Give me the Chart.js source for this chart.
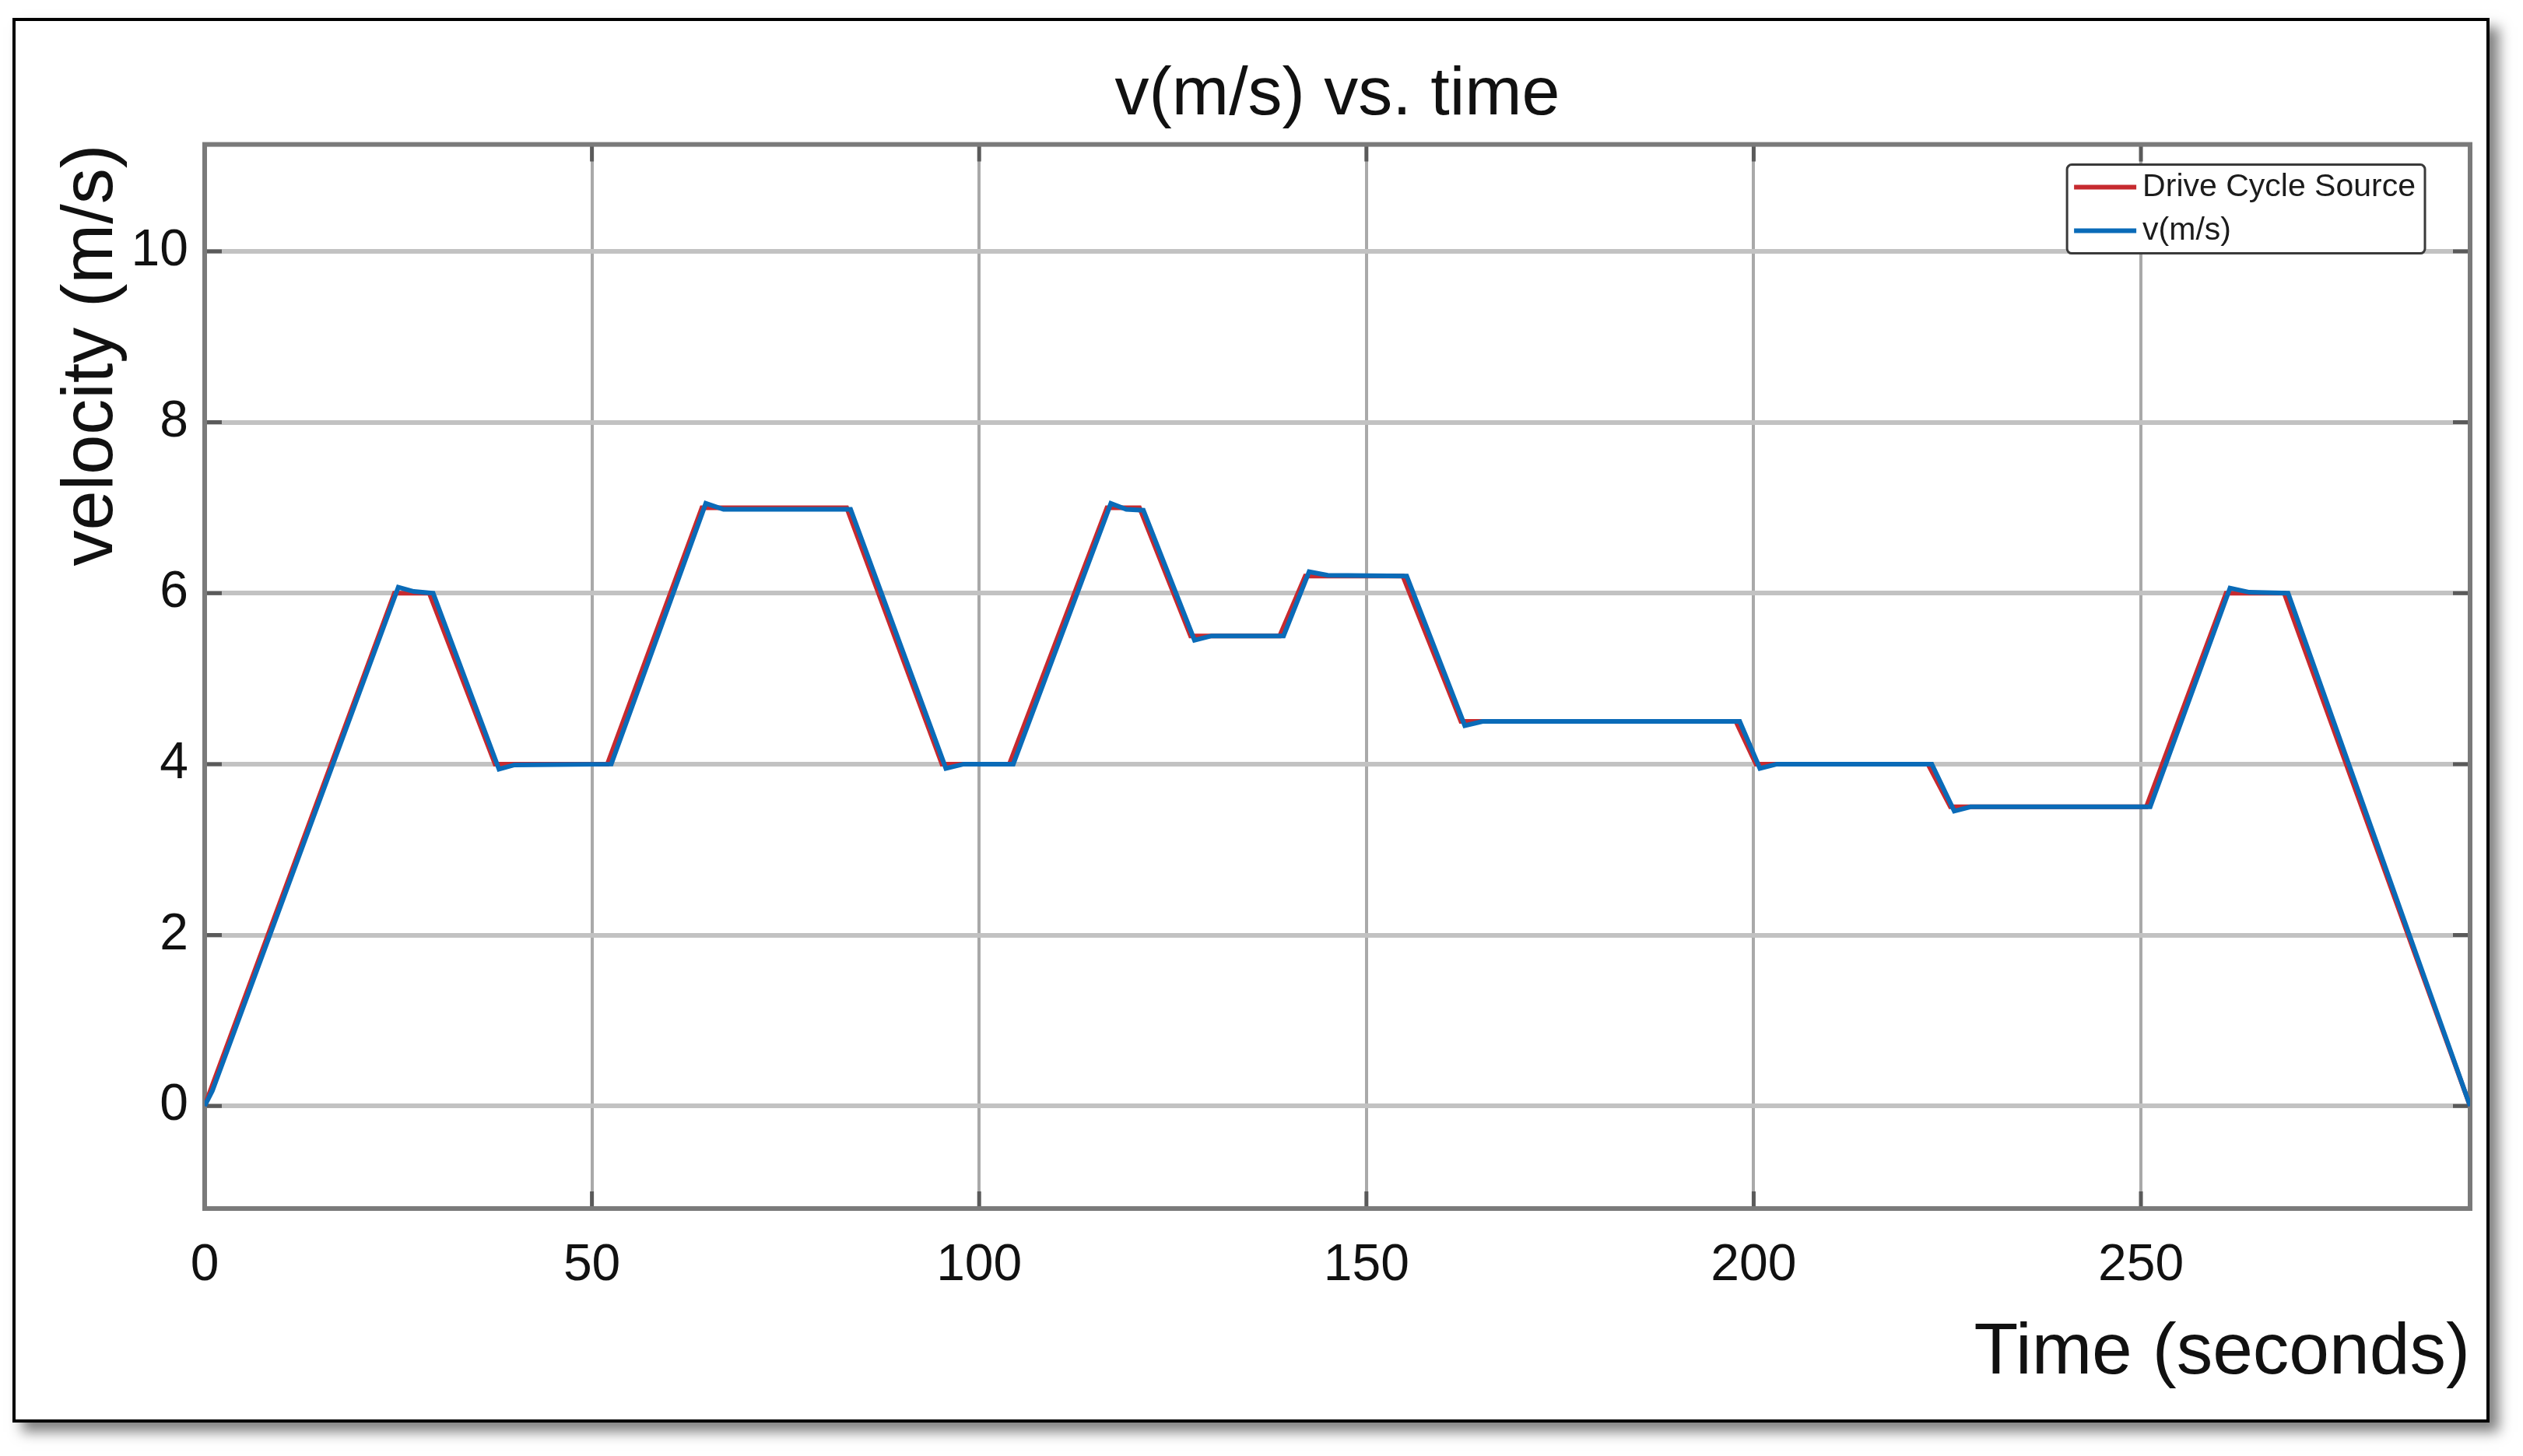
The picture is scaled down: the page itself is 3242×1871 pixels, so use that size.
<!DOCTYPE html>
<html>
<head>
<meta charset="utf-8">
<script src="https://cdn.jsdelivr.net/npm/chart.js@4.4.1/dist/chart.umd.min.js"></script>
<style>
html,body{margin:0;padding:0;background:#ffffff;width:3242px;height:1871px;overflow:hidden}
#frame{position:absolute;left:16px;top:23px;width:3183px;height:1805px;box-sizing:border-box;border:4px solid #000;box-shadow:12px 12px 16px rgba(0,0,0,0.5);background:#fff}
#c{position:absolute;left:0;top:0}
</style>
</head>
<body>
<div id="frame"></div>
<canvas id="c" width="3242" height="1871"></canvas>
<script>
// ---- data ----
const chartTitle = 'v(m/s) vs. time';
const xAxisTitle = 'Time (seconds)';
const yAxisTitle = 'velocity (m/s)';
const seriesNames = ['Drive Cycle Source', 'v(m/s)'];
const xTicks = [0, 50, 100, 150, 200, 250];
const yTicks = [0, 2, 4, 6, 8, 10];
const xRange = [0, 292.5];
const yRange = [-1.2, 11.25];

// Drive cycle source (red)
const sourceTime = [0, 24.5, 29, 37.5, 52, 64.2, 82.9, 95.2, 103.9, 116.5, 120.7, 127.3, 138.8, 142.1, 154.7, 162.2, 197.7, 200.3, 222.5, 225.4, 250.7, 261, 268.5, 292.5];
const sourceVel  = [0, 6, 6, 4, 4, 7, 7, 4, 4, 7, 7, 5.5, 5.5, 6.2, 6.2, 4.5, 4.5, 4, 4, 3.5, 3.5, 6, 6, 0];

// Vehicle response v(m/s) (blue)
const responseTime = [0, 1, 25, 27, 29.5, 38, 40, 52.5, 64.7, 67, 83.4, 95.7, 98, 104.4, 117, 119, 121.2, 127.8, 130, 139.3, 142.6, 145, 155.2, 162.7, 165, 198.2, 200.8, 203, 223, 225.9, 228, 251.2, 261.5, 264, 269, 292.5];
const responseVel  = [0, 0.18, 6.07, 6.02, 6.0, 3.94, 3.99, 4.0, 7.05, 6.98, 6.98, 3.95, 4.0, 4.0, 7.05, 6.98, 6.97, 5.45, 5.5, 5.5, 6.25, 6.21, 6.2, 4.45, 4.5, 4.5, 3.95, 4.0, 4.0, 3.45, 3.5, 3.5, 6.06, 6.01, 6.0, 0];

// ---- styling ----
const FONT = "'Liberation Sans', Arial, Helvetica, sans-serif";

const axesBox = {
  id: 'axesBox',
  beforeDatasetsDraw(chart) {
    const {ctx, chartArea: a, scales: {x, y}} = chart;
    const L = 22;
    ctx.save();
    ctx.lineWidth = 5;
    ctx.strokeStyle = '#5a5a5a';
    ctx.beginPath();
    x.ticks.forEach(t => {
      const px = x.getPixelForValue(t.value);
      ctx.moveTo(px, a.bottom); ctx.lineTo(px, a.bottom - L);
      ctx.moveTo(px, a.top); ctx.lineTo(px, a.top + L);
    });
    y.ticks.forEach(t => {
      const py = y.getPixelForValue(t.value);
      ctx.moveTo(a.left, py); ctx.lineTo(a.left + L, py);
      ctx.moveTo(a.right, py); ctx.lineTo(a.right - L, py);
    });
    ctx.stroke();
    ctx.strokeStyle = '#7a7a7a';
    ctx.lineWidth = 6;
    ctx.strokeRect(a.left, a.top, a.right - a.left, a.bottom - a.top);
    ctx.restore();
  }
};

const insetLegend = {
  id: 'insetLegend',
  afterDraw(chart, args, o) {
    const {ctx, chartArea: a} = chart;
    const ds = chart.data.datasets;
    ctx.save();
    ctx.font = o.fontSize + 'px ' + FONT;
    const tw = Math.max(...ds.map(d => ctx.measureText(d.label).width));
    const w = o.padLeft + o.sampleLen + o.gap + tw + o.padRight;
    const h = o.rowOffset * 2 + o.rowGap * (ds.length - 1);
    const right = a.right - o.offsetRight;
    const left = right - w;
    const top = a.top + o.offsetTop;
    ctx.fillStyle = '#ffffff';
    ctx.strokeStyle = '#3a3a3a';
    ctx.lineWidth = 3;
    ctx.beginPath();
    ctx.roundRect(left, top, w, h, 6);
    ctx.fill();
    ctx.stroke();
    ds.forEach((d, i) => {
      const yy = top + o.rowOffset + i * o.rowGap;
      ctx.strokeStyle = d.borderColor;
      ctx.lineWidth = 6;
      ctx.beginPath();
      ctx.moveTo(left + o.padLeft, yy);
      ctx.lineTo(left + o.padLeft + o.sampleLen, yy);
      ctx.stroke();
      ctx.fillStyle = '#1c1c1c';
      ctx.textBaseline = 'middle';
      ctx.textAlign = 'left';
      ctx.fillText(d.label, left + o.padLeft + o.sampleLen + o.gap, yy);
    });
    ctx.restore();
  }
};

const toPoints = (xs, ys) => xs.map((t, i) => ({x: t, y: ys[i]}));

new Chart(document.getElementById('c'), {
  type: 'line',
  data: {
    datasets: [
      {label: seriesNames[0], data: toPoints(sourceTime, sourceVel), borderColor: '#c62a2f', borderWidth: 6, pointRadius: 0, tension: 0, order: 1},
      {label: seriesNames[1], data: toPoints(responseTime, responseVel), borderColor: '#0a6bb8', borderWidth: 6, pointRadius: 0, tension: 0, order: 0}
    ]
  },
  options: {
    responsive: false,
    animation: false,
    devicePixelRatio: 1,
    layout: {padding: {left: 0, right: 68, top: 0, bottom: 0}},
    plugins: {
      legend: {display: false},
      tooltip: {enabled: false},
      title: {display: true, fullSize: false, text: chartTitle, color: '#111', font: {family: FONT, size: 88, weight: 'normal'}, padding: {top: 70, bottom: 10}},
      insetLegend: {fontSize: 41, padLeft: 9, sampleLen: 80, gap: 8, padRight: 12, rowOffset: 29, rowGap: 56, offsetRight: 58, offsetTop: 26}
    },
    scales: {
      x: {
        type: 'linear', min: xRange[0], max: xRange[1],
        afterBuildTicks: s => { s.ticks = xTicks.map(v => ({value: v})); },
        afterFit: s => { s.height = 318; },
        grid: {color: '#a9a9a9', lineWidth: 4, drawTicks: false},
        border: {display: false},
        ticks: {color: '#111', font: {family: FONT, size: 66}, padding: 34, maxRotation: 0, autoSkip: false},
        title: {display: true, text: xAxisTitle, align: 'end', color: '#111', font: {family: FONT, size: 93}, padding: {top: 0, bottom: 76}}
      },
      y: {
        type: 'linear', min: yRange[0], max: yRange[1],
        afterBuildTicks: s => { s.ticks = yTicks.map(v => ({value: v})); },
        afterFit: s => { s.width = 263; },
        grid: {color: '#c2c2c2', lineWidth: 6, drawTicks: false},
        border: {display: false},
        ticks: {color: '#111', font: {family: FONT, size: 66}, padding: 21},
        title: {display: true, text: yAxisTitle, align: 'end', color: '#111', font: {family: FONT, size: 92}, padding: {top: 63, bottom: 0}}
      }
    }
  },
  plugins: [axesBox, insetLegend]
});
</script>
</body>
</html>
